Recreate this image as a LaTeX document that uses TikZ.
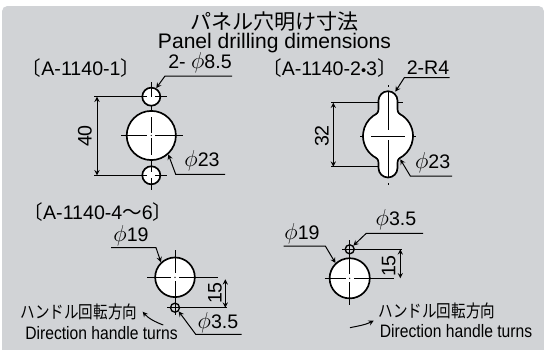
\documentclass[tikz,border=0pt]{standalone}
\usepackage{fontspec}
\setmainfont{Liberation Sans}
\newfontfamily\cjk{Noto Sans CJK JP}
\newfontfamily\cjkn[FakeStretch=0.84]{Noto Sans CJK JP}
\newfontfamily\narrow[FakeStretch=0.87]{Liberation Sans}
\definecolor{panelgray}{RGB}{209,211,214}
\newcommand{\dia}{\scalebox{1.2}{$\phi$}}
\tikzset{
  hole/.style={circle, draw=black, line width=1.25pt, fill=white, inner sep=0pt},
  cln/.style={line width=0.7pt},
  lead/.style={line width=0.75pt, <-, >=stealth},
  dim/.style={line width=0.75pt, <->, >=stealth},
  ext/.style={line width=0.75pt},
  title/.style={font=\fontsize{15.8}{18}\selectfont, inner sep=0pt},
  lab/.style={font=\fontsize{14.7}{17}\selectfont, inner sep=0pt},
  small/.style={font=\fontsize{13.5}{15}\narrow, inner sep=0pt},
  smalljp/.style={font=\fontsize{13}{15}\cjkn, inner sep=0pt}
}
\begin{document}
\begin{tikzpicture}[x=0.75pt,y=-0.75pt]
	\useasboundingbox (0,0) rectangle (544,350);
	\fill[panelgray, rounded corners=4pt] (2,6) -- (544,6) -- (544,356) -- (2,356) -- cycle;
	\node[title] (titlejp) at (274.5,22) {\cjk パネル穴明け寸法};
	\node[title] (titleen) at (274.5,43) {Panel drilling dimensions};
	%
	% A-1140-1
	\node[lab] (typea) at (81,68) {\cjk 〔\normalfont A-1140-1\cjk 〕};
	\draw[ext] (94,96.7) -- (141,96.7);
	\draw[ext] (94,175.3) -- (141,175.3);
	\node[hole, minimum size=18bp*0.75] (topa) at (151.3,96.7) {};
	\node[hole, minimum size=49bp*0.75] (biga) at (151.3,135.5) {};
	\node[hole, minimum size=18bp*0.75] (bota) at (151.3,175.3) {};
	\draw[cln] (121,135.5) -- (147,135.5) (155,135.5) -- (183,135.5) (151.3,117) -- (151.3,133) (151.3,138) -- (151.3,155);
	\fill (151.3,135.5) circle (0.6);
	\draw[cln] (138,96.7) -- (147,96.7) (155,96.7) -- (167,96.7) (151.3,82) -- (151.3,97) (151.3,105) -- (151.3,110);
	\draw[cln] (138,175.3) -- (147,175.3) (155,175.3) -- (167,175.3) (151.3,161) -- (151.3,172) (151.3,178) -- (151.3,190);
	\coordinate (dimatop) at (97,96.7);
	\coordinate (dimabot) at (97,175.3);
	\draw[dim] (dimatop) -- (dimabot);
	\node[lab, rotate=90] (dimatxt) at (85,136) {40};
	\node[lab] (leadatxt) at (200,63) {2- \dia8.5};
	\coordinate (leadaend) at (232,76);
	\coordinate (leadael) at (165,76);
	\draw[lead] (topa.60) -- (leadael) -- (leadaend);
	\node[lab] (phiatxt) at (202,161) {\dia23};
	\coordinate (phiaend) at (225,174.3);
	\coordinate (phiael) at (175.7,174.3);
	\draw[lead] (biga.-48) -- (phiael) -- (phiaend);
	%
	% A-1140-2, 3
	\node[lab] (typeb) at (329.5,68) {\cjk 〔\normalfont A-1140-2\scalebox{.75}{•}3\cjk 〕};
	\draw[ext] (331.3,102.7) -- (378.5,102.7) (397.5,102.7) -- (403,102.7);
	\draw[ext] (331.3,166.7) -- (378.5,166.7);
	\draw[line width=1.25pt, fill=white] (378.5,100.7) arc[start angle=180, end angle=360, radius=9.5]
		-- (397.5,109) .. controls (397.5,113) and (399.5,114) .. (402.7,115.8)
		arc[start angle=-54, end angle=54, radius=25]
		.. controls (399.5,158) and (397.5,159) .. (397.5,163) -- (397.5,168)
		arc[start angle=0, end angle=180, radius=9.5]
		-- (378.5,163) .. controls (378.5,159) and (376.5,158) .. (373.3,156.2)
		arc[start angle=126, end angle=234, radius=25]
		.. controls (376.5,114) and (378.5,113) .. (378.5,109) -- cycle;
	\draw[cln] (388,92) -- (388,130) (388,140) -- (388,178) (371,136) -- (405,136);
	\draw[cln] (388,85) -- (388,87) (388,183) -- (388,185) (360,136) -- (363,136) (414,136) -- (416,136);
	\coordinate (dimbtop) at (333.3,102.7);
	\coordinate (dimbbot) at (333.3,166.7);
	\draw[dim] (dimbtop) -- (dimbbot);
	\node[lab, rotate=90] (dimbtxt) at (322,136) {32};
	\node[lab] (leadbtxt) at (428,68) {2-R4};
	\coordinate (leadbtip) at (395.3,91.7);
	\coordinate (leadbel) at (404.3,77.7);
	\coordinate (leadbend) at (449.7,77.7);
	\draw[lead] (leadbtip) -- (leadbel) -- (leadbend);
	\node[lab] (phibtxt) at (432.7,163) {\dia23};
	\coordinate (phibtip) at (400.3,159.3);
	\coordinate (phibel) at (410.3,176);
	\coordinate (phibend) at (452,176);
	\draw[lead] (phibtip) -- (phibel) -- (phibend);
	%
	% A-1140-4 to 6
	\node[lab] (typec) at (98,212) {\cjk 〔\normalfont A-1140-4\cjk ～\normalfont 6\cjk 〕};
	\draw[ext] (147,277.3) -- (218,277.3);
	\draw[ext] (175,307.7) -- (226.7,307.7);
	\node[hole, minimum size=39.5bp*0.75] (bigc) at (175,277.3) {};
	\node[hole, line width=1pt, minimum size=9bp*0.75, fill=none] (smc) at (175,307.7) {};
	\draw[cln] (147,277.3) -- (171,277.3) (179,277.3) -- (195,277.3) (175,250) -- (175,273) (175,281) -- (175,315);
	\fill (175,277.3) circle (0.7);
	\draw[cln] (167,307.7) -- (183,307.7);
	\coordinate (dimctop) at (225.3,279.3);
	\coordinate (dimcbot) at (225.3,307.7);
	\draw[dim] (dimctop) -- (dimcbot);
	\node[lab, rotate=90] (dimctxt) at (215,293) {15};
	\node[lab] (phictxt) at (131,236) {\dia19};
	\coordinate (phicstart) at (111,247.7);
	\coordinate (phicel) at (156,247.7);
	\draw[lead] (bigc.133) -- (phicel) -- (phicstart);
	\node[lab] (leadctxt) at (218,322.7) {\dia3.5};
	\coordinate (leadcel) at (195.7,334.3);
	\coordinate (leadcend) at (241.7,334.3);
	\draw[lead] (smc.-45) -- (leadcel) -- (leadcend);
	\node[smalljp] (turncjp) at (79,312) {ハンドル回転方向};
	\node[small] (turncen) at (101.5,332.7) {Direction handle turns};
	\coordinate (turnctip) at (142.7,311.7);
	\coordinate (turnctail) at (163.3,325);
	\draw[lead] (turnctip) .. controls (148,318) and (155,322) .. (turnctail);
	%
	% A-1140-4 to 6, other hand
	\draw[ext] (342,249.3) -- (402,249.3);
	\draw[ext] (372,278.3) -- (393.7,278.3);
	\node[hole, minimum size=40bp*0.75] (bigd) at (349.7,278.3) {};
	\node[hole, line width=1pt, minimum size=9bp*0.75, fill=none] (smd) at (349.7,249.3) {};
	\draw[cln] (324.7,278.3) -- (346,278.3) (354,278.3) -- (372,278.3) (349.7,240) -- (349.7,274) (349.7,282) -- (349.7,305);
	\fill (349.7,278.3) circle (0.7);
	\coordinate (dimdtop) at (400.3,249.3);
	\coordinate (dimdbot) at (400.3,278.3);
	\draw[dim] (dimdtop) -- (dimdbot);
	\node[lab, rotate=90] (dimdtxt) at (388.7,266) {15};
	\node[lab] (phidtxt) at (302,234) {\dia19};
	\coordinate (phidstart) at (283.7,246);
	\coordinate (phidel) at (325.3,246);
	\draw[lead] (bigd.133) -- (phidel) -- (phidstart);
	\node[lab] (leaddtxt) at (396,220) {\dia3.5};
	\coordinate (leaddel) at (366.3,233.3);
	\coordinate (leaddend) at (423,233.3);
	\draw[lead] (smd.45) -- (leaddel) -- (leaddend);
	\node[smalljp] (turndjp) at (437,310.7) {ハンドル回転方向};
	\node[small] (turnden) at (456,331) {Direction handle turns};
	\coordinate (turndtip) at (373.7,320.7);
	\coordinate (turndtail) at (350,327.7);
	\draw[lead] (turndtip) .. controls (365,325) and (358,326) .. (turndtail);
\end{tikzpicture}
\end{document}
